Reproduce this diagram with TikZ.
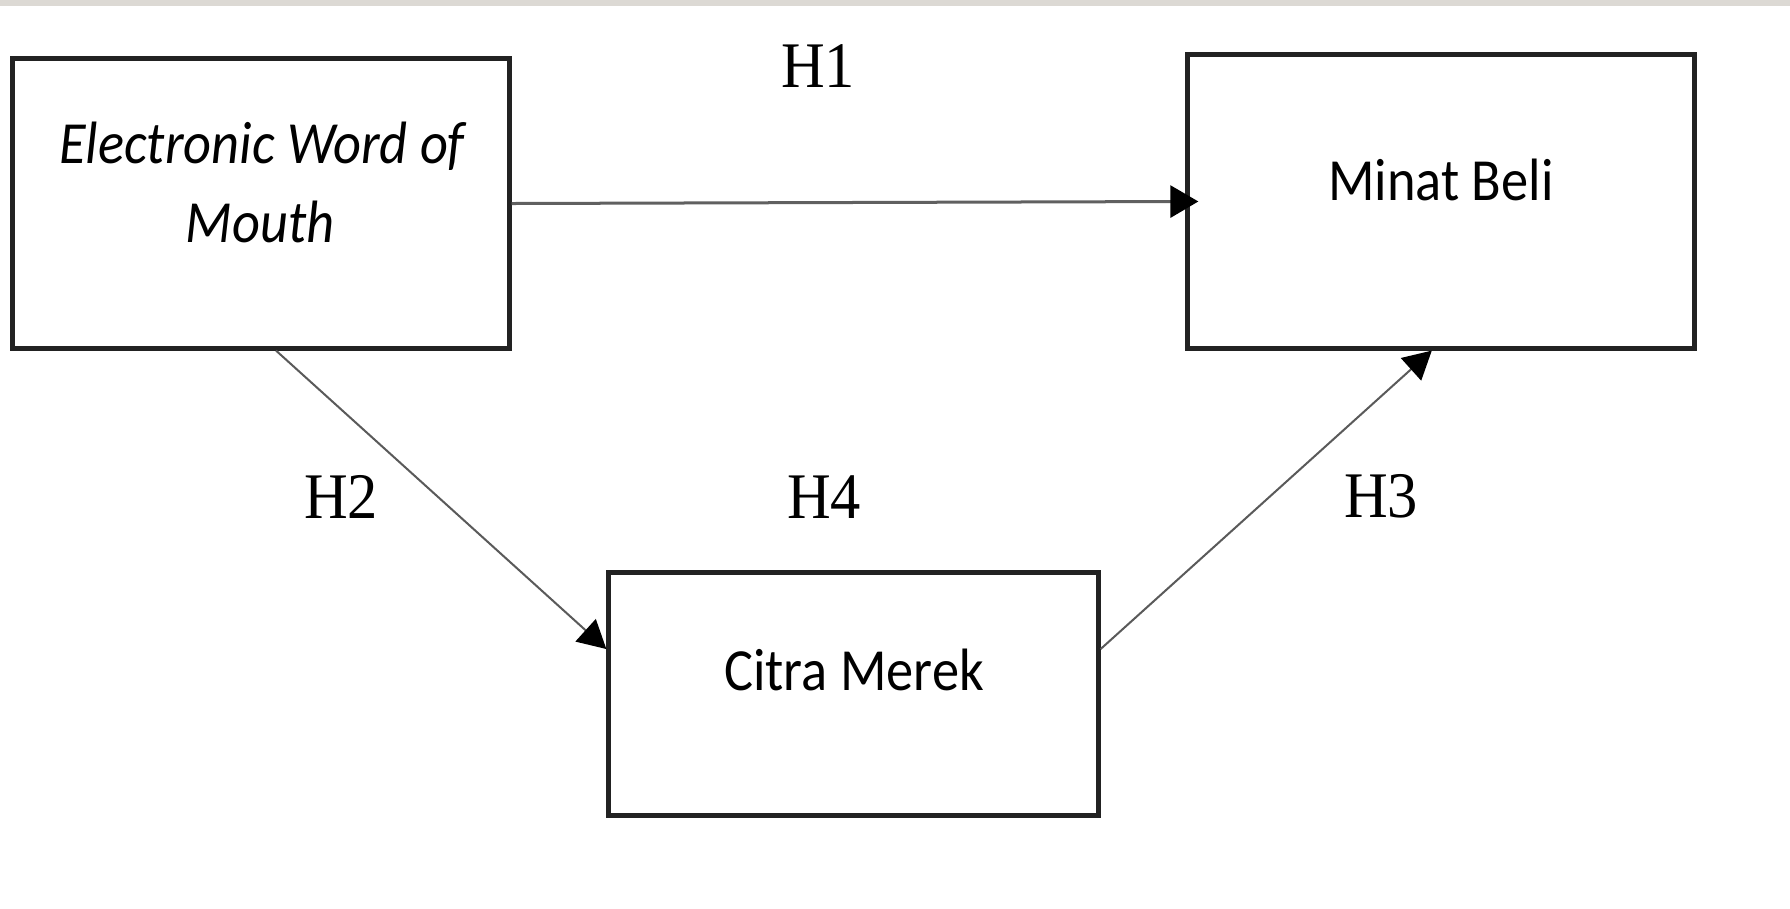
\documentclass[tikz,border=0pt]{standalone}
\usepackage{fontspec}
\setmainfont{Liberation Serif}
\newfontfamily\hfont{Liberation Serif}[FakeStretch=0.93]
\newfontfamily\cfont{Carlito}[FakeStretch=0.91]
\usetikzlibrary{arrows.meta,calc}
\definecolor{barcol}{HTML}{DCD9D4}
\definecolor{boxline}{HTML}{222222}
\definecolor{linkcol}{HTML}{5A5A5A}
\tikzset{
  vbox/.style={draw=boxline, line width=0.05cm, fill=white, inner sep=0pt},
  boxtext/.style={font=\cfont\fontsize{17pt}{22pt}\selectfont, anchor=base, inner sep=0pt, text=black},
  hlabel/.style={font=\hfont\fontsize{18.5pt}{22pt}\selectfont, anchor=base, inner sep=0pt, text=black},
  link/.style={draw=linkcol, line width=0.02cm, -{Triangle[length=0.28cm,width=0.3cm,black]}},
  mainlink/.style={draw=gray!75!black, line width=0.03cm, -{Triangle[length=0.28cm,width=0.32cm,black]}}
}
\begin{document}
\begin{tikzpicture}[x=0.01cm, y=-0.01cm]
\useasboundingbox (0,0) rectangle (1790,908);
\fill[white] (0,0) rectangle (1790,908);
\fill[barcol] (0,0) rectangle (1790,6);
% boxes
\node[vbox, minimum width=4.96cm, minimum height=2.89cm] (ewom) at (261,203.5) {};
\node[vbox, minimum width=5.06cm, minimum height=2.93cm] (minat) at (1441,201.5) {};
\node[vbox, minimum width=4.89cm, minimum height=2.42cm] (citra) at (853.5,694) {};
% box texts
\node[boxtext] (ewomA) at (262,163) {\itshape Electronic Word of};
\node[boxtext] (ewomB) at (260,242) {\itshape Mouth};
\node[boxtext] (minatT) at (1441,200) {Minat Beli};
\node[boxtext] (citraT) at (854,690) {Citra Merek};
% connectors
\draw[mainlink, shorten >=-0.13cm] (ewom.east) -- (minat.west);
\draw[link] ($(ewom.south west)!0.53!(ewom.south east)$) -- ($(citra.north west)!0.318!(citra.south west)$);
\draw[link] ($(citra.north east)!0.318!(citra.south east)$) -- ($(minat.south west)!0.482!(minat.south east)$);
% labels
\node[hlabel] (h1) at (818,87) {H1};
\node[hlabel] (h2) at (341,518) {H2};
\node[hlabel] (h4) at (824,518) {H4};
\node[hlabel] (h3) at (1381,517) {H3};
\end{tikzpicture}
\end{document}
